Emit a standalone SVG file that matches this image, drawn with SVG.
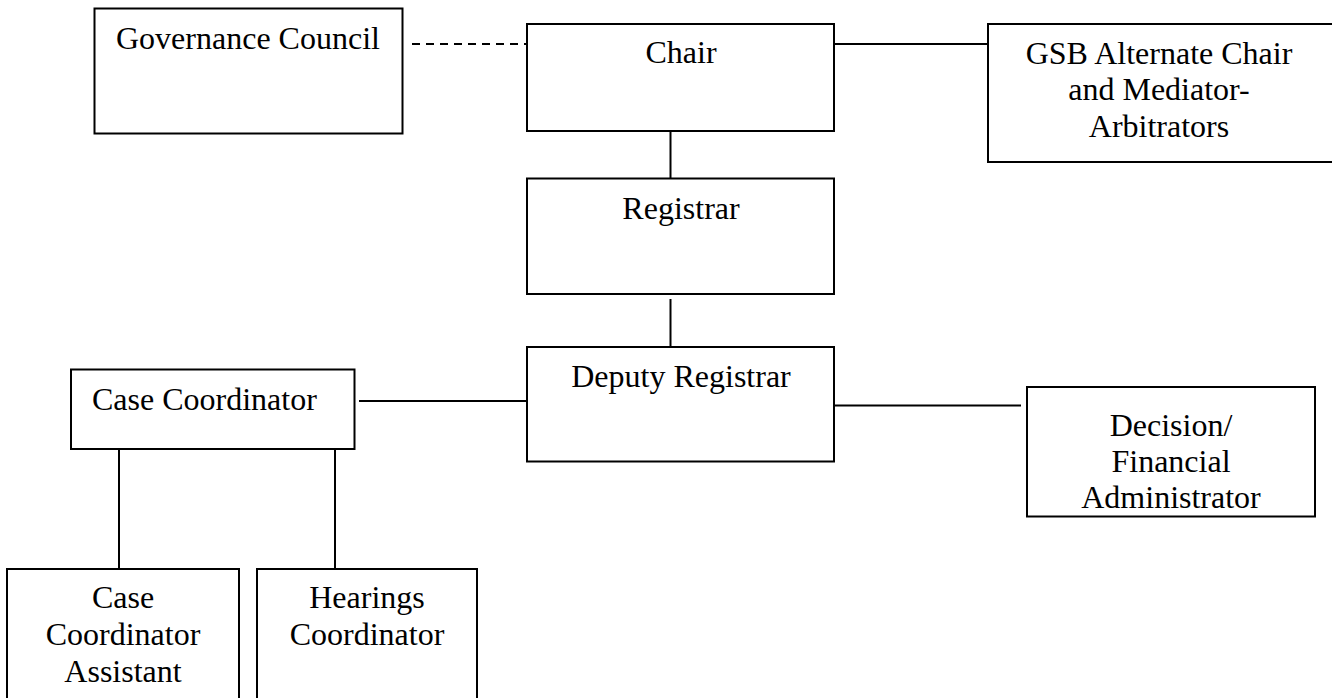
<svg xmlns="http://www.w3.org/2000/svg" width="1332" height="698" viewBox="0 0 1332 698">
<style>
.box{fill:#fff;stroke:#000;stroke-width:2}
.ln{stroke:#000;stroke-width:2;fill:none}
.dash{stroke-dasharray:8 6}
text{font-family:"Liberation Serif","Times New Roman",serif;font-size:32px;fill:#000}
.c{text-anchor:middle}
</style>
<rect width="1332" height="698" fill="#fff"/>
<g id="connectors">
<line class="ln dash" x1="412" y1="44" x2="527" y2="44"/>
<line class="ln" x1="834" y1="44" x2="988" y2="44"/>
<line class="ln" x1="670.5" y1="131" x2="670.5" y2="178"/>
<line class="ln" x1="670.5" y1="299" x2="670.5" y2="347"/>
<line class="ln" x1="359" y1="401" x2="527" y2="401"/>
<line class="ln" x1="829" y1="405.5" x2="1021" y2="405.5"/>
<line class="ln" x1="119" y1="449" x2="119" y2="569"/>
<line class="ln" x1="335" y1="449" x2="335" y2="569"/>
</g>
<g id="governance-council">
<rect class="box" x="94.5" y="8.5" width="308" height="125"/>
<text x="116" y="49">Governance Council</text>
</g>
<g id="chair">
<rect class="box" x="527" y="24" width="307" height="107"/>
<text class="c" x="681" y="63">Chair</text>
</g>
<g id="gsb">
<rect class="box" x="988" y="24" width="350" height="138"/>
<text class="c" x="1159" y="64">GSB Alternate Chair</text>
<text class="c" x="1159" y="100">and Mediator-</text>
<text class="c" x="1159" y="137">Arbitrators</text>
</g>
<g id="registrar">
<rect class="box" x="527" y="178.5" width="307" height="115.5"/>
<text class="c" x="681" y="219">Registrar</text>
</g>
<g id="deputy-registrar">
<rect class="box" x="527" y="347" width="307" height="114.5"/>
<text class="c" x="681" y="387">Deputy Registrar</text>
</g>
<g id="case-coordinator">
<rect class="box" x="71" y="369.5" width="283.5" height="79.5"/>
<text x="92" y="410">Case Coordinator</text>
</g>
<g id="decision-financial">
<rect class="box" x="1027" y="387" width="288" height="129.5"/>
<text class="c" x="1171" y="436">Decision/</text>
<text class="c" x="1171" y="472">Financial</text>
<text class="c" x="1171" y="508">Administrator</text>
</g>
<g id="case-coordinator-assistant">
<rect class="box" x="7" y="569" width="232" height="140"/>
<text class="c" x="123" y="608">Case</text>
<text class="c" x="123" y="645">Coordinator</text>
<text class="c" x="123" y="682">Assistant</text>
</g>
<g id="hearings-coordinator">
<rect class="box" x="257" y="569" width="220" height="140"/>
<text class="c" x="367" y="608">Hearings</text>
<text class="c" x="367" y="645">Coordinator</text>
</g>
</svg>
